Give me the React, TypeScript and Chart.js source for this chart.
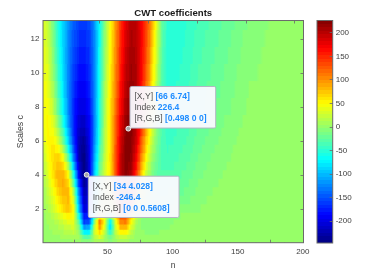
import React, { useEffect, useRef } from "react";
import { Chart, registerables } from "chart.js";

Chart.register(...registerables);

const titleText = "CWT coefficients";
const xLabel = "n";
const yLabel = "Scales c";
const xTicks = [50, 100, 150, 200];
const yTicks = [2, 4, 6, 8, 10, 12];
const barTicks = [-200, -150, -100, -50, 0, 50, 100, 150, 200];
const cMin = -246.4;
const cMax = 226.4;

const nCols = [1,4,8,12,16,20,24,28,32,36,40,44,48,52,56,60,64,68,72,76,80,84,88,92,96,100,105,112,120,130,140,150,160,175,200];
const scaleRows = [13,12,11,10,9,8,7,6.5,6,5.5,5,4.5,4,3.5,3,2.5,2,1.5,1.2,0.9,0.6,0.3,0.1];
const coefRows = [
[33,22,-12,-55,-90,-120,-145,-158,-162,-155,-120,-62,-5,45,95,145,180,203,197,170,135,90,30,-25,-48,-52,-50,-46,-38,-30,-23,-15,-8,-2,0],
[36,26,-8,-52,-90,-122,-150,-165,-170,-160,-122,-62,-2,48,97,148,185,206,200,172,132,85,25,-28,-50,-53,-50,-45,-36,-28,-21,-13,-6,-1,0],
[38,30,-3,-48,-88,-125,-155,-172,-177,-165,-123,-60,0,50,100,152,190,210,203,170,128,78,20,-30,-50,-52,-49,-44,-34,-26,-19,-11,-5,-1,0],
[42,35,3,-42,-85,-127,-160,-180,-184,-170,-124,-58,3,53,103,156,195,213,205,168,122,70,14,-32,-50,-51,-47,-42,-32,-24,-17,-10,-4,0,0],
[46,40,12,-35,-80,-127,-165,-188,-192,-175,-125,-55,6,56,107,160,200,218,206,163,115,62,8,-33,-49,-49,-45,-40,-30,-22,-15,-8,-2,0,0],
[48,46,22,-25,-72,-125,-170,-197,-202,-180,-125,-52,10,60,112,167,207,222,205,157,105,52,2,-33,-47,-47,-43,-38,-28,-20,-13,-6,-1,0,0],
[45,50,38,-5,-55,-115,-172,-207,-214,-188,-128,-50,13,62,117,175,215,226,200,148,92,38,-6,-34,-45,-44,-40,-35,-25,-17,-10,-4,0,0,0],
[40,50,47,12,-38,-103,-170,-215,-225,-192,-127,-48,14,62,120,180,219,225,195,140,80,30,-10,-35,-44,-42,-38,-33,-23,-15,-8,-3,0,0,0],
[35,50,55,30,-20,-90,-165,-222,-235,-195,-125,-45,15,62,122,185,222,222,190,130,70,22,-14,-35,-42,-40,-36,-31,-21,-14,-7,-2,0,0,0],
[28,47,60,52,12,-62,-150,-224,-241,-198,-118,-38,17,62,124,189,224,220,183,118,57,13,-17,-35,-40,-38,-34,-29,-19,-12,-5,-1,0,0,0],
[22,42,62,72,45,-30,-130,-222,-245,-200,-110,-30,20,62,125,193,225,218,175,105,45,5,-20,-35,-38,-36,-32,-27,-17,-10,-4,-1,0,0,0],
[18,37,62,80,68,8,-98,-208,-246,-203,-102,-22,24,61,125,195,224,212,163,90,32,-3,-23,-34,-35,-33,-29,-24,-14,-8,-3,0,0,0,0],
[15,32,60,85,85,45,-60,-190,-246,-205,-95,-15,28,60,125,195,222,205,150,75,20,-10,-25,-32,-32,-30,-26,-21,-12,-6,-2,0,0,0,0],
[11,26,50,78,88,66,-28,-160,-237,-205,-87,-8,29,55,120,190,216,193,130,57,10,-14,-25,-29,-29,-27,-23,-18,-10,-4,-1,0,0,0,0],
[8,20,40,68,85,80,10,-130,-225,-205,-80,0,30,50,115,185,210,180,110,40,0,-18,-25,-26,-25,-23,-20,-15,-8,-3,0,0,0,0,0],
[6,16,32,56,75,80,28,-112,-215,-200,-72,12,33,35,100,172,190,152,85,25,-4,-17,-21,-22,-20,-18,-15,-11,-5,-1,0,0,0,0,0],
[4,12,25,45,65,78,45,-95,-205,-195,-65,25,35,20,85,160,170,125,60,10,-8,-15,-17,-17,-15,-13,-10,-7,-3,0,0,0,0,0,0],
[2,8,16,28,42,55,45,-60,-180,-170,-35,65,30,-25,50,125,125,70,20,-2,-8,-10,-10,-9,-7,-5,-3,-1,0,0,0,0,0,0,0],
[2,6,10,18,28,38,35,-30,-160,-150,-10,110,40,-75,30,105,110,50,10,-4,-6,-7,-7,-6,-4,-3,-1,0,0,0,0,0,0,0,0],
[1,4,7,12,18,26,28,-10,-115,-110,15,95,30,-85,20,85,85,35,5,-3,-5,-5,-5,-4,-3,-2,-1,0,0,0,0,0,0,0,0],
[1,3,5,8,12,17,20,0,-70,-70,25,65,15,-50,15,55,55,20,2,-2,-3,-3,-3,-2,-2,-1,0,0,0,0,0,0,0,0,0],
[0,1,2,4,6,9,12,5,-25,-30,15,35,8,-18,8,25,25,10,1,-1,-1,-1,-1,-1,-1,0,0,0,0,0,0,0,0,0,0],
[0,0,1,2,3,4,5,2,-8,-10,5,12,3,-6,3,8,8,3,0,0,0,0,0,0,0,0,0,0,0,0,0,0,0,0,0],
];

const tipXs = [66, 34];
const tipYs = [6.74, 4.028];
const tipIndex = ["226.4", "-246.4"];
const tipRgb = ["[0.498 0 0]", "[0 0 0.5608]"];
const tipXY = ["[66 6.74]", "[34 4.028]"];

const FONT = "'Liberation Sans', Arial, sans-serif";
const TEXT = "#404040";
const BOX = "#6a6a6a";

function jet(v: number) {
  const steps = 64;
  let i = Math.floor(((v - cMin) / (cMax - cMin)) * steps);
  i = Math.max(0, Math.min(steps - 1, i));
  const t = (i + 0.5) / steps;
  const c = (a: number) => Math.round(255 * Math.max(0, Math.min(1, 1.5 - Math.abs(4 * t - a))));
  return `rgb(${c(3)},${c(2)},${c(1)})`;
}

const boxPlugin = {
  id: "box",
  afterDraw(chart: any) {
    const { ctx, chartArea: a } = chart;
    ctx.save();
    ctx.strokeStyle = BOX;
    ctx.lineWidth = 1;
    ctx.strokeRect(a.left, a.top, a.right - a.left, a.bottom - a.top);
    ctx.restore();
  },
};

const tipPlugin = {
  id: "tips",
  afterDraw(chart: any) {
    const { ctx, scales } = chart;
    const offs = [
      { dx: 1.7, dy: -42.2, w: 85.7, h: 41.6 },
      { dx: 1.7, dy: 1.4, w: 90.7, h: 41.3 },
    ];
    tipXs.forEach((n, i) => {
      const px = scales.x.getPixelForValue(n);
      const py = scales.y.getPixelForValue(tipYs[i]);
      const o = offs[i];
      const bx = px + o.dx;
      const by = py + o.dy;
      ctx.save();
      ctx.beginPath();
      ctx.roundRect(bx, by, o.w, o.h, 1.5);
      ctx.fillStyle = "rgba(250,250,255,0.96)";
      ctx.fill();
      ctx.strokeStyle = "#b4b4c4";
      ctx.lineWidth = 1;
      ctx.stroke();
      const lines = [
        ["[X,Y] ", tipXY[i]],
        ["Index ", tipIndex[i]],
        ["[R,G,B] ", tipRgb[i]],
      ];
      ctx.textBaseline = "middle";
      lines.forEach((l, k) => {
        const tx = bx + 4.4;
        const ty = by + 10 + k * 11.2;
        ctx.font = `8.6px ${FONT}`;
        ctx.fillStyle = "#505050";
        ctx.fillText(l[0], tx, ty);
        const w = ctx.measureText(l[0]).width;
        ctx.font = `bold 8.6px ${FONT}`;
        ctx.fillStyle = "#1e8cff";
        ctx.fillText(l[1], tx + w, ty);
      });
      ctx.beginPath();
      ctx.arc(px, py, 2.4, 0, Math.PI * 2);
      ctx.fillStyle = "#a8a8a8";
      ctx.fill();
      ctx.strokeStyle = "#f4f4f4";
      ctx.lineWidth = 1;
      ctx.stroke();
      ctx.restore();
    });
  },
};

const fixed = (key: "width" | "height", size: number) => (s: any) => {
  s[key] = size;
};
const setTicks = (vals: number[]) => (s: any) => {
  s.ticks = vals.map((value) => ({ value }));
};

const tickGrid = {
  drawOnChartArea: false,
  drawTicks: true,
  tickLength: -3,
  color: BOX,
  lineWidth: 0.8,
  z: 1,
};

export default function App() {
  const mainRef = useRef<HTMLCanvasElement>(null);
  const barRef = useRef<HTMLCanvasElement>(null);

  useEffect(() => {
    // Cells tile the x range: each column is centred on its n.
    let edge = 0;
    const colWidths = nCols.map((n) => {
      const w = 2 * (n - edge);
      edge += w;
      return w;
    });
    const rowEdges = scaleRows.map((c, i) => (i === 0 ? 13.3 : (scaleRows[i - 1] + c) / 2));
    rowEdges.push(0);
    const pxPerN = 260.5 / 200;

    // Shade a cell from its own value towards its neighbours' (like shading interp).
    const cellFill = (j: number) => (ctx: any) => {
      const row = coefRows[ctx.dataIndex];
      const xs = ctx.chart.scales.x;
      if (!row || !xs) return "#000";
      const n = nCols[j];
      const half = colWidths[j] / 2;
      const x0 = n - half;
      const x1 = n + half;
      const p0 = xs.getPixelForValue(x0);
      const p1 = xs.getPixelForValue(x1);
      if (!Number.isFinite(p0) || !Number.isFinite(p1)) return "#000";
      const g = ctx.chart.ctx.createLinearGradient(p0, 0, p1, 0);
      const K = 8;
      for (let k = 0; k <= K; k++) {
        const p = x0 + ((x1 - x0) * k) / K;
        let v = row[j];
        if (p < n && j > 0) {
          const f = (n - p) / (n - nCols[j - 1]);
          v = row[j] + (row[j - 1] - row[j]) * f;
        } else if (p > n && j < nCols.length - 1) {
          const f = (p - n) / (nCols[j + 1] - n);
          v = row[j] + (row[j + 1] - row[j]) * f;
        }
        g.addColorStop(k / K, jet(v));
      }
      return g;
    };

    const datasets = nCols.map((n, j) => ({
      grouped: false,
      barThickness: colWidths[j] * pxPerN + 0.6,
      borderWidth: 0,
      data: scaleRows.map((_, i) => ({ x: n, y: [rowEdges[i + 1], rowEdges[i] + 0.03] })),
      backgroundColor: cellFill(j),
    }));

    const main = new Chart(mainRef.current!, {
      type: "bar",
      data: { datasets } as any,
      plugins: [boxPlugin, tipPlugin],
      options: {
        animation: false,
        responsive: false,
        layout: { padding: { left: 0, right: 78.5, top: 0, bottom: 0 } },
        plugins: {
          legend: { display: false },
          tooltip: { enabled: false },
          title: {
            display: true,
            text: titleText,
            fullSize: false,
            color: "#1a1a1a",
            font: { family: FONT, size: 9.6, weight: "bold", lineHeight: 1.2 },
            padding: { top: 7.5, bottom: 1.5 },
          },
        },
        scales: {
          x: {
            type: "linear",
            min: 0.5,
            max: 200.5,
            offset: false,
            position: "bottom",
            afterBuildTicks: setTicks(xTicks),
            afterFit: fixed("height", 30.3),
            grid: tickGrid,
            border: { display: false },
            ticks: { color: TEXT, padding: 7.5, maxRotation: 0, font: { family: FONT, size: 8 } },
            title: { display: true, text: xLabel, color: TEXT, font: { family: FONT, size: 8.6, lineHeight: 1.2 }, padding: { top: 0, bottom: 2.2 } },
          },
          x2: {
            type: "linear",
            min: 0.5,
            max: 200.5,
            position: "top",
            afterBuildTicks: setTicks(xTicks),
            afterFit: fixed("height", 0),
            grid: tickGrid,
            border: { display: false },
            ticks: { display: false },
          },
          y: {
            type: "linear",
            min: 0.035,
            max: 13.1,
            position: "left",
            afterBuildTicks: setTicks(yTicks),
            afterFit: fixed("width", 43),
            grid: tickGrid,
            border: { display: false },
            ticks: { color: TEXT, padding: 6.5, font: { family: FONT, size: 8 } },
            title: { display: true, text: yLabel, color: TEXT, font: { family: FONT, size: 8.8, lineHeight: 1.2 }, padding: { top: 15, bottom: 0 } },
          },
          y2: {
            type: "linear",
            min: 0.035,
            max: 13.1,
            position: "right",
            afterBuildTicks: setTicks(yTicks),
            afterFit: fixed("width", 0),
            grid: tickGrid,
            border: { display: false },
            ticks: { display: false },
          },
        },
      } as any,
    });

    const barFill = (ctx: any) => {
      const a = ctx.chart.chartArea;
      if (!a) return "#000";
      const g = ctx.chart.ctx.createLinearGradient(0, a.bottom, 0, a.top);
      for (let i = 0; i < 64; i++) {
        const col = jet(cMin + ((i + 0.5) / 64) * (cMax - cMin));
        g.addColorStop(i / 64, col);
        g.addColorStop((i + 1) / 64, col);
      }
      return g;
    };

    const bar = new Chart(barRef.current!, {
      type: "bar",
      data: {
        labels: [""],
        datasets: [
          {
            data: [[cMin, cMax]],
            backgroundColor: barFill,
            borderWidth: 0,
            barPercentage: 1,
            categoryPercentage: 1,
          },
        ],
      } as any,
      plugins: [boxPlugin],
      options: {
        animation: false,
        responsive: false,
        layout: { padding: { left: 1, right: 0, top: 20.5, bottom: 30 } },
        plugins: { legend: { display: false }, tooltip: { enabled: false }, title: { display: false } },
        scales: {
          x: { display: false },
          y: {
            type: "linear",
            min: cMin,
            max: cMax,
            position: "right",
            afterBuildTicks: setTicks(barTicks),
            afterFit: fixed("width", 49.3),
            grid: tickGrid,
            border: { display: false },
            ticks: { color: TEXT, padding: 6, font: { family: FONT, size: 8 } },
          },
        },
      } as any,
    });

    return () => {
      main.destroy();
      bar.destroy();
    };
  }, []);

  return (
    <div style={{ position: "absolute", left: 0, top: 0, width: 382, height: 273, overflow: "hidden", background: "#fff", filter: "blur(0.45px)" }}>
      <canvas ref={mainRef} width={382} height={273} style={{ position: "absolute", left: 0, top: 0 }} />
      <canvas ref={barRef} width={66} height={273} style={{ position: "absolute", left: 316, top: 0 }} />
    </div>
  );
}
